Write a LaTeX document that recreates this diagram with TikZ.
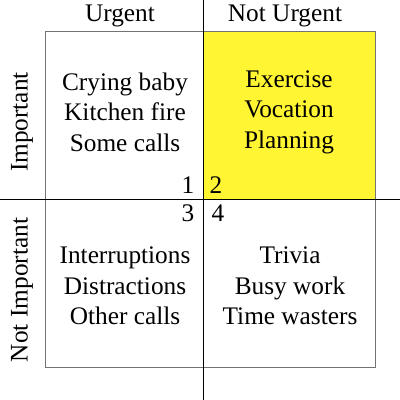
\documentclass[tikz,border=0pt]{standalone}
\usepackage{fontspec}
\setmainfont{Liberation Serif}
\begin{document}
\begin{tikzpicture}[
		schrift/.style={font=\fontsize{18}{21.6}\selectfont, inner sep=0pt, align=center},
		rand/.style={draw=black!55, line width=0.7pt}]
		
		\useasboundingbox (0,0) rectangle (10,10);
		
		%feld wichtig und nicht dringend
		\fill[yellow!80!white] (5.075,5.025) rectangle (9.375,9.2);
		\draw[rand] (1.125,0.825) rectangle (9.375,9.2);
		
		%achsen
		\coordinate (oben) at (5.075,10);
		\coordinate (unten) at (5.075,0);
		\coordinate (links) at (0,5.025);
		\coordinate (rechts) at (10,5.025);
		\draw[line width=0.6pt] (unten) -- (oben);
		\draw[line width=0.6pt] (links) -- (rechts);
		
		%beschriftung
		\node[schrift] (urgent) at (3.0,9.6) {Urgent};
		\node[schrift] (noturgent) at (7.125,9.6) {Not Urgent};
		\node[schrift, rotate=90] (important) at (0.55,6.95) {Important};
		\node[schrift, rotate=90] (notimportant) at (0.55,2.75) {Not Important};
		
		%felder
		\foreach \x/\y/\text [count=\i] in {3.125/7.2/{Crying baby\\Kitchen fire\\Some calls}, 7.225/7.2/{Exercise\\Vocation\\Planning},
			3.125/2.85/{Interruptions\\Distractions\\Other calls}, 7.25/2.85/{Trivia\\Busy work\\Time wasters}}
		\node[schrift] (feld\i) at (\x,\y) {\text};
		
		%nummern
		\foreach \x/\y [count=\i] in {4.7/5.375, 5.4/5.375, 4.7/4.675, 5.45/4.675}
		\node[schrift] (nummer\i) at (\x,\y) {\i};
		
	\end{tikzpicture}
\end{document}
